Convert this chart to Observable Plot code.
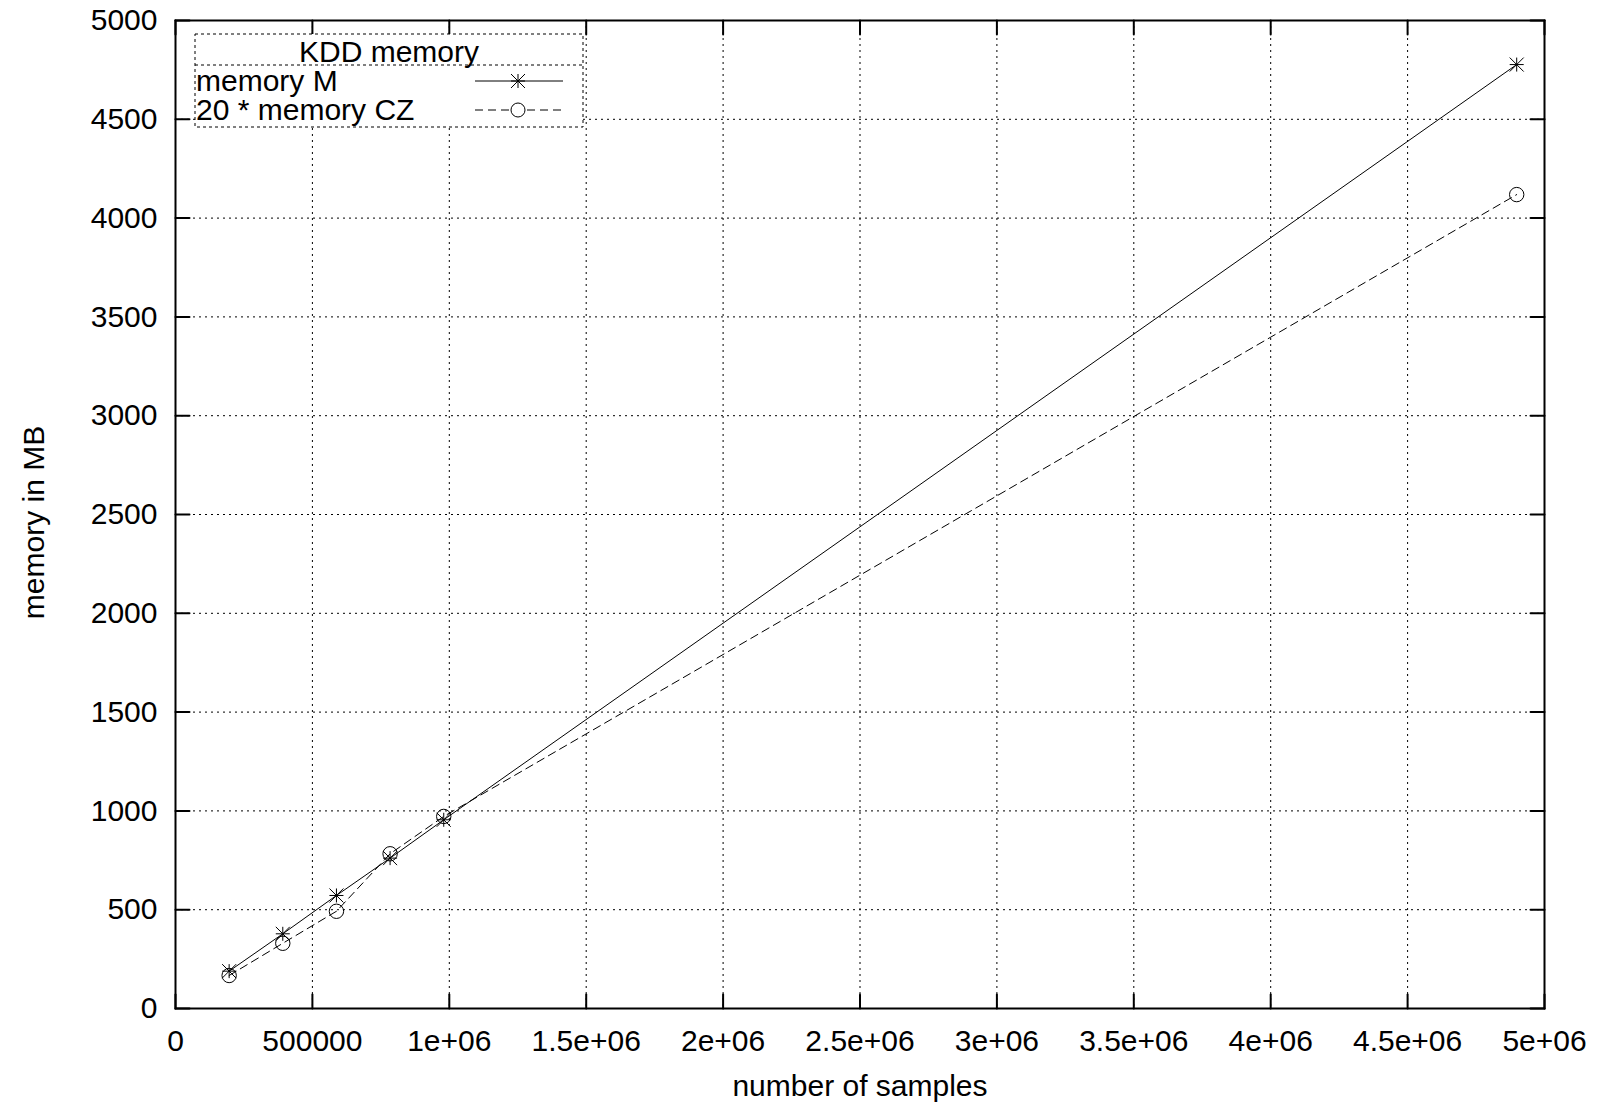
<!DOCTYPE html>
<html>
<head>
<meta charset="utf-8">
<script src="https://cdn.jsdelivr.net/npm/d3@7"></script>
<script src="https://cdn.jsdelivr.net/npm/@observablehq/plot@0.6"></script>
<style>
  body { margin: 0; background: #fff; }
  #chart { width: 1601px; height: 1103px; }
</style>
</head>
<body>
<div id="chart"></div>
<script>
// Sample counts (KDD subsets) and memory use in MB
const samples = [195937, 391874, 587811, 783748, 979685, 4898431];
const memoryM = [189, 378, 572, 761, 955, 4777];
const memoryCZ20 = [167, 330, 492, 783, 972, 4119];

const xTicks = [0, 500000, 1000000, 1500000, 2000000, 2500000, 3000000, 3500000, 4000000, 4500000, 5000000];
const xTickLabels = ["0", "500000", "1e+06", "1.5e+06", "2e+06", "2.5e+06", "3e+06", "3.5e+06", "4e+06", "4.5e+06", "5e+06"];
const yTicks = [0, 500, 1000, 1500, 2000, 2500, 3000, 3500, 4000, 4500, 5000];
const yTickLabels = ["0", "500", "1000", "1500", "2000", "2500", "3000", "3500", "4000", "4500", "5000"];

const xTitle = "number of samples";
const yTitle = "memory in MB";
const legendTitle = "KDD memory";
const seriesNames = ["memory M", "20 * memory CZ"];

const rowsM = samples.map((s, i) => ({x: s, y: memoryM[i]}));
const rowsCZ = samples.map((s, i) => ({x: s, y: memoryCZ20[i]}));

const xLabel = new Map(xTicks.map((t, i) => [t, xTickLabels[i]]));
const yLabel = new Map(yTicks.map((t, i) => [t, yTickLabels[i]]));

// gnuplot-style asterisk: plus and cross overlaid
const star = {
  draw(ctx, size) {
    const r = Math.sqrt(size / Math.PI);
    ctx.moveTo(-r, 0); ctx.lineTo(r, 0);
    ctx.moveTo(0, -r); ctx.lineTo(0, r);
    ctx.moveTo(-r, -r); ctx.lineTo(r, r);
    ctx.moveTo(-r, r); ctx.lineTo(r, -r);
  }
};
// straight tick line for the inward frame ticks
const tickLine = { draw(ctx, l) { ctx.moveTo(0, 0); ctx.lineTo(0, -l); } };

const font = "'Liberation Sans', Arial, Helvetica, sans-serif";
const gridDash = "2,4";
const tickLen = 14;

const plot = Plot.plot({
  width: 1601,
  height: 1103,
  marginLeft: 175,
  marginRight: 57,
  marginTop: 20,
  marginBottom: 95,
  style: {fontFamily: font, fontSize: "30px", color: "#000", background: "#fff"},
  x: {domain: [0, 5000000]},
  y: {domain: [0, 5000]},
  marks: [
    Plot.gridX(xTicks, {stroke: "#000", strokeOpacity: 1, strokeWidth: 1, strokeDasharray: gridDash}),
    Plot.gridY(yTicks, {stroke: "#000", strokeOpacity: 1, strokeWidth: 1, strokeDasharray: gridDash}),
    Plot.line(rowsM, {x: "x", y: "y", stroke: "#000", strokeWidth: 1}),
    Plot.line(rowsCZ, {x: "x", y: "y", stroke: "#000", strokeWidth: 1, strokeDasharray: "8,5"}),
    Plot.dot(rowsM, {x: "x", y: "y", symbol: star, r: 7, fill: "none", stroke: "#000", strokeWidth: 1}),
    Plot.dot(rowsCZ, {x: "x", y: "y", symbol: "circle", r: 7.2, fill: "none", stroke: "#000", strokeWidth: 1}),
    Plot.frame({stroke: "#000", strokeWidth: 2}),
    // inward ticks on all four sides
    Plot.vector(yTicks, {y: d => d, frameAnchor: "left", rotate: 90, length: tickLen, anchor: "start", shape: tickLine, stroke: "#000", strokeWidth: 2}),
    Plot.vector(yTicks, {y: d => d, frameAnchor: "right", rotate: -90, length: tickLen, anchor: "start", shape: tickLine, stroke: "#000", strokeWidth: 2}),
    Plot.vector(xTicks, {x: d => d, frameAnchor: "bottom", rotate: 0, length: tickLen, anchor: "start", shape: tickLine, stroke: "#000", strokeWidth: 2}),
    Plot.vector(xTicks, {x: d => d, frameAnchor: "top", rotate: 180, length: tickLen, anchor: "start", shape: tickLine, stroke: "#000", strokeWidth: 2}),
    Plot.axisX(xTicks, {tickSize: 0, tickPadding: 21, tickFormat: d => xLabel.get(d), label: null, fontSize: 30}),
    Plot.axisY(yTicks, {tickSize: 0, tickPadding: 18, tickFormat: d => yLabel.get(d), label: null, fontSize: 30}),
    Plot.text([xTitle], {text: d => d, frameAnchor: "bottom", textAnchor: "middle", lineAnchor: "middle", dy: 78, fontSize: 30}),
    Plot.text([yTitle], {text: d => d, frameAnchor: "left", textAnchor: "middle", lineAnchor: "middle", rotate: -90, dx: -141, dy: 8, fontSize: 30})
  ]
});

document.getElementById("chart").appendChild(plot);

// Key box inside the plot area
const svg = d3.select(plot);
const key = svg.append("g")
  .attr("font-family", font)
  .attr("font-size", 30)
  .attr("fill", "#000");

const box = {x0: 195, y0: 34, x1: 583, y1: 127, sep: 65};
key.append("rect")
  .attr("x", box.x0).attr("y", box.y0)
  .attr("width", box.x1 - box.x0).attr("height", box.y1 - box.y0)
  .attr("fill", "#fff").attr("stroke", "#000").attr("stroke-width", 1)
  .attr("stroke-dasharray", "3,3");
key.append("line")
  .attr("x1", box.x0).attr("x2", box.x1).attr("y1", box.sep).attr("y2", box.sep)
  .attr("stroke", "#000").attr("stroke-width", 1).attr("stroke-dasharray", "3,3");
key.append("text")
  .attr("x", (box.x0 + box.x1) / 2).attr("y", 62)
  .attr("text-anchor", "middle")
  .text(legendTitle);

const rows = [
  {name: seriesNames[0], base: 91, ly: 81, dash: null, sym: star},
  {name: seriesNames[1], base: 120, ly: 110, dash: "8,5", sym: d3.symbolCircle}
];
rows.forEach(r => {
  key.append("text").attr("x", 196).attr("y", r.base).attr("text-anchor", "start").text(r.name);
  key.append("line")
    .attr("x1", 475).attr("x2", 563).attr("y1", r.ly).attr("y2", r.ly)
    .attr("stroke", "#000").attr("stroke-width", 1)
    .attr("stroke-dasharray", r.dash);
  key.append("path")
    .attr("transform", `translate(518,${r.ly})`)
    .attr("d", d3.symbol().type(r.sym).size(Math.PI * 49)())
    .attr("fill", r.sym === star ? "none" : "#fff")
    .attr("stroke", "#000").attr("stroke-width", 1);
});
</script>
</body>
</html>
